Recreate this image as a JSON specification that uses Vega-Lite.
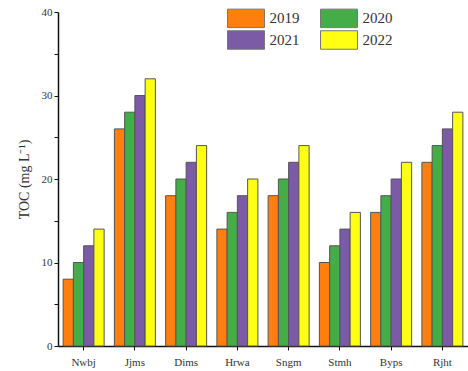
{
  "$schema": "https://vega.github.io/schema/vega-lite/v6.json",
  "width": 410,
  "height": 334,
  "autosize": {"type": "none"},
  "padding": {"left": 58, "top": 12, "right": 0, "bottom": 25},
  "background": "white",
  "config": {
    "view": {"stroke": null},
    "font": "Liberation Serif"
  },
  "data": {
    "values": [
      {"site": "Nwbj", "year": "2019", "toc": 8},
      {"site": "Nwbj", "year": "2020", "toc": 10},
      {"site": "Nwbj", "year": "2021", "toc": 12},
      {"site": "Nwbj", "year": "2022", "toc": 14},
      {"site": "Jjms", "year": "2019", "toc": 26},
      {"site": "Jjms", "year": "2020", "toc": 28},
      {"site": "Jjms", "year": "2021", "toc": 30},
      {"site": "Jjms", "year": "2022", "toc": 32},
      {"site": "Dims", "year": "2019", "toc": 18},
      {"site": "Dims", "year": "2020", "toc": 20},
      {"site": "Dims", "year": "2021", "toc": 22},
      {"site": "Dims", "year": "2022", "toc": 24},
      {"site": "Hrwa", "year": "2019", "toc": 14},
      {"site": "Hrwa", "year": "2020", "toc": 16},
      {"site": "Hrwa", "year": "2021", "toc": 18},
      {"site": "Hrwa", "year": "2022", "toc": 20},
      {"site": "Sngm", "year": "2019", "toc": 18},
      {"site": "Sngm", "year": "2020", "toc": 20},
      {"site": "Sngm", "year": "2021", "toc": 22},
      {"site": "Sngm", "year": "2022", "toc": 24},
      {"site": "Stmh", "year": "2019", "toc": 10},
      {"site": "Stmh", "year": "2020", "toc": 12},
      {"site": "Stmh", "year": "2021", "toc": 14},
      {"site": "Stmh", "year": "2022", "toc": 16},
      {"site": "Byps", "year": "2019", "toc": 16},
      {"site": "Byps", "year": "2020", "toc": 18},
      {"site": "Byps", "year": "2021", "toc": 20},
      {"site": "Byps", "year": "2022", "toc": 22},
      {"site": "Rjht", "year": "2019", "toc": 22},
      {"site": "Rjht", "year": "2020", "toc": 24},
      {"site": "Rjht", "year": "2021", "toc": 26},
      {"site": "Rjht", "year": "2022", "toc": 28}
    ]
  },
  "mark": {"type": "bar", "stroke": "#555555", "strokeWidth": 1},
  "encoding": {
    "x": {
      "field": "site",
      "type": "nominal",
      "sort": null,
      "scale": {"paddingInner": 0.2, "paddingOuter": 0.1},
      "axis": {
        "title": null,
        "labelAngle": 0,
        "labelFont": "Liberation Serif",
        "labelFontSize": 11,
        "labelColor": "#333333",
        "labelPadding": 6,
        "domainColor": "#111111",
        "domainWidth": 1.5,
        "tickColor": "#111111",
        "tickSize": 4,
        "grid": false
      }
    },
    "xOffset": {"field": "year", "type": "nominal", "scale": {"paddingInner": 0, "paddingOuter": 0}},
    "y": {
      "field": "toc",
      "type": "quantitative",
      "scale": {"domain": [0, 40], "nice": false},
      "axis": {
        "title": "TOC (mg L⁻¹)",
        "titleFont": "Liberation Serif",
        "titleFontSize": 14,
        "titleFontWeight": "normal",
        "titleColor": "#333333",
        "titlePadding": 10,
        "values": [0, 5, 10, 15, 20, 25, 30, 35, 40],
        "labelExpr": "datum.value % 10 === 0 ? datum.label : ''",
        "labelFont": "Liberation Serif",
        "labelFontSize": 11,
        "labelColor": "#333333",
        "domainColor": "#111111",
        "domainWidth": 1.5,
        "tickColor": "#111111",
        "tickSize": 4,
        "grid": false
      }
    },
    "color": {
      "field": "year",
      "type": "nominal",
      "scale": {
        "domain": ["2019", "2020", "2021", "2022"],
        "range": ["#ff7f0e", "#44ad48", "#7b5aa6", "#ffff14"]
      },
      "legend": {
        "title": null,
        "orient": "none",
        "legendX": 178,
        "legendY": -4,
        "direction": "horizontal",
        "columns": 2,
        "symbolType": "M-2,-1L2,-1L2,1L-2,1Z",
        "symbolSize": 342,
        "symbolStrokeColor": "#777777",
        "symbolStrokeWidth": 1,
        "symbolOpacity": 1,
        "labelFont": "Liberation Serif",
        "labelFontSize": 15,
        "labelColor": "#333333",
        "labelOffset": 13.5,
        "columnPadding": 18,
        "rowPadding": -3
      }
    }
  }
}
